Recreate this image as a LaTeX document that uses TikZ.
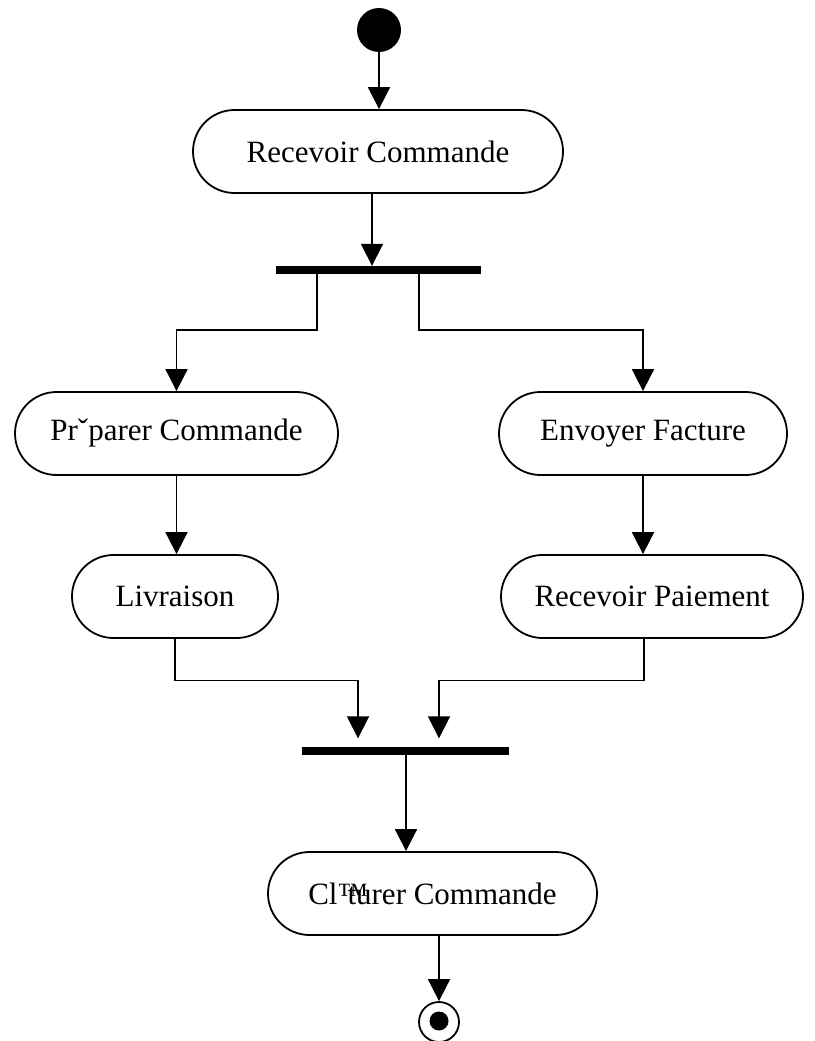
\documentclass[tikz,border=0pt]{standalone}
\usepackage{fontspec}
\setmainfont{Liberation Serif}
\usetikzlibrary{arrows.meta,shapes.misc}
\begin{document}
\begin{tikzpicture}[x=1pt,y=-1pt,
  flow/.style={line width=1.8pt,-{Triangle[width=22pt,length=22pt]}},
  wire/.style={line width=1.8pt},
  activity/.style={draw,line width=1.8pt,rounded rectangle,minimum height=83pt,
    inner sep=0pt,font=\fontsize{31}{36}\selectfont},
  syncbar/.style={fill=black,draw=none,minimum height=8pt,inner sep=0pt},
]
\useasboundingbox (0,0) rectangle (814,1041);

% start and end
\node[circle,fill=black,minimum size=44pt,inner sep=0pt] (start) at (379,30) {};
\node[circle,draw,line width=1.8pt,minimum size=40pt,inner sep=0pt] (stop) at (439,1022) {};
\node[circle,fill=black,minimum size=19pt,inner sep=0pt] (stopdot) at (439,1021) {};

% activities
\node[activity,minimum width=370pt] (rc)   at (378,151.5) {Recevoir Commande};
\node[activity,minimum width=323pt] (prep) at (176.5,433.5) {Prˇparer Commande};
\node[activity,minimum width=288pt] (env)  at (643,433.5) {Envoyer Facture};
\node[activity,minimum width=206pt] (liv)  at (175,596.5) {Livraison};
\node[activity,minimum width=302pt] (pay)  at (652,596.5) {Recevoir Paiement};
\node[activity,minimum width=329pt] (clo)  at (432.5,893.5) {Cl\rlap{™}\kern0.32em turer Commande};

% fork and join bars
\node[syncbar,minimum width=205pt] (fork) at (378.5,270) {};
\node[syncbar,minimum width=207pt] (join) at (405.5,750.5) {};

% connectors
\draw[flow] (start) -- (start |- rc.north);
\draw[flow] ([xshift=-6pt]rc.south) -- ([xshift=-6pt]rc.south |- fork.north);

\coordinate (fl) at ([xshift=-61.5pt]fork.south);
\coordinate (fr) at ([xshift=40.5pt]fork.south);
\draw[flow] (fl) -- ++(0,56) -| (prep.north);
\draw[flow] (fr) -- ++(0,56) -| (env.north);

\draw[flow] (prep.south) -- (prep.south |- liv.north);
\draw[flow] (env.south) -- (env.south |- pay.north);

\coordinate (jl) at ([xshift=-47.5pt,yshift=8pt]join.north);
\coordinate (jr) at ([xshift=33.5pt,yshift=8pt]join.north);
\draw[flow] (liv.south) -- ++(0,41.5) -| (jl);
\draw[flow] ([xshift=-8pt]pay.south) -- ++(0,41.5) -| (jr);

\draw[flow] ([xshift=0.5pt]join.south) -- ([xshift=0.5pt]join.south |- clo.north);
\draw[flow] ([xshift=6.5pt]clo.south) -- ([xshift=6.5pt]clo.south |- stop.north);
\end{tikzpicture}
\end{document}
